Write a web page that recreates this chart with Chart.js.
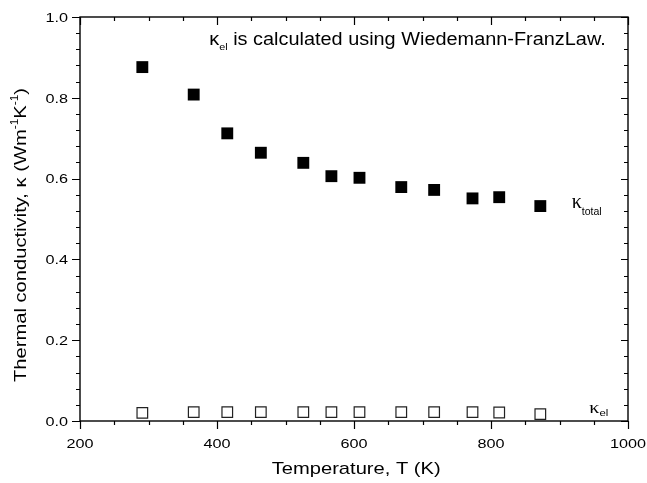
<!DOCTYPE html>
<html>
<head>
<meta charset="utf-8">
<script src="https://cdn.jsdelivr.net/npm/chart.js@4.4.1/dist/chart.umd.min.js"></script>
<style>
html, body { margin: 0; padding: 0; background: #fff; }
#wrap { position: relative; width: 647px; height: 483px; }
</style>
</head>
<body>
<div id="wrap"><canvas id="kappaChart"></canvas></div>
<script>
'use strict';

// Data
var TEMPS   = [291, 366, 415, 464, 526, 567, 608, 669, 717, 773, 812, 872];
var K_TOTAL = [0.876, 0.808, 0.712, 0.664, 0.639, 0.606, 0.602, 0.579, 0.572, 0.551, 0.554, 0.532];
var K_EL    = [0.020, 0.022, 0.022, 0.022, 0.022, 0.022, 0.022, 0.022, 0.022, 0.022, 0.021, 0.017];

var X_MIN = 200, X_MAX = 1000, X_STEP = 200, X_MINOR = 50;
var Y_MIN = 0, Y_MAX = 1.0, Y_STEP = 0.2, Y_MINOR = 0.04;

var SANS = '"Liberation Sans", Arial, Helvetica, sans-serif';
var SERIF = '"Liberation Serif", "Times New Roman", serif';

function pts(xs, ys) {
  return xs.map(function (x, i) { return { x: x, y: ys[i] }; });
}

// draw a run of text pieces (sub/superscripts), optionally stretched to a width
function drawRich(ctx, segs, x, y, o) {
  o = o || {};
  var w = 0;
  segs.forEach(function (s) {
    ctx.font = s.size + 'px ' + (s.family || SANS);
    s.w = ctx.measureText(s.t).width;
    w += s.w;
  });
  var k = o.width ? o.width / w : (o.scale || 1);
  ctx.save();
  ctx.translate(x, y);
  if (o.angle) ctx.rotate(o.angle);
  ctx.scale(k, 1);
  var cx = 0;
  if (o.align === 'center') cx = -w / 2;
  else if (o.align === 'right') cx = -w;
  ctx.fillStyle = '#000';
  ctx.textBaseline = 'alphabetic';
  ctx.textAlign = 'left';
  segs.forEach(function (s) {
    ctx.font = s.size + 'px ' + (s.family || SANS);
    ctx.fillText(s.t, cx, s.dy || 0);
    cx += s.w;
  });
  ctx.restore();
}

var framePlugin = {
  id: 'frame',
  afterDatasetsDraw: function (chart) {
    var ctx = chart.ctx, a = chart.chartArea;
    var xs = chart.scales.x, ys = chart.scales.y;
    ctx.save();
    ctx.strokeStyle = '#000';
    ctx.lineWidth = 1.4;
    ctx.strokeRect(a.left, a.top, a.right - a.left, a.bottom - a.top);

    ctx.lineWidth = 1.2;
    ctx.beginPath();
    // x ticks: outward at bottom, inward at top
    for (var v = X_MIN; v <= X_MAX + 1e-9; v += X_MINOR) {
      var px = Math.round(xs.getPixelForValue(v)) + 0.5;
      var major = Math.abs(v % X_STEP) < 1e-6;
      ctx.moveTo(px, a.bottom); ctx.lineTo(px, a.bottom + (major ? 8 : 4));
      ctx.moveTo(px, a.top); ctx.lineTo(px, a.top + (major ? 8 : 4));
    }
    // y ticks: outward at left, inward at right
    for (var i = 0; i <= Math.round((Y_MAX - Y_MIN) / Y_MINOR); i++) {
      var val = Y_MIN + i * Y_MINOR;
      var py = Math.round(ys.getPixelForValue(val)) + 0.5;
      var maj = i % 5 === 0;
      ctx.moveTo(a.left - (maj ? 8 : 4), py); ctx.lineTo(a.left, py);
      ctx.moveTo(a.right, py); ctx.lineTo(a.right - (maj ? 7 : 4), py);
    }
    ctx.stroke();
    ctx.restore();

    // tick labels
    xs.ticks.forEach(function (t) {
      drawRich(ctx, [{ t: String(Math.round(t.value)), size: 13.5 }],
        xs.getPixelForValue(t.value), a.bottom + 26.5, { scale: 1.2, align: 'center' });
    });
    ys.ticks.forEach(function (t) {
      drawRich(ctx, [{ t: t.value.toFixed(1), size: 13.5 }],
        a.left - 12, ys.getPixelForValue(t.value) + 4.8, { scale: 1.2, align: 'right' });
    });

    // axis titles
    drawRich(ctx, [{ t: 'Temperature, T (K)', size: 17 }], 271.7, 474.3, { width: 169 });
    drawRich(ctx, [
      { t: 'Thermal conductivity, \u03ba (Wm', size: 17 },
      { t: '-1', size: 10, dy: -7.5 },
      { t: 'K', size: 17 },
      { t: '-1', size: 10, dy: -7.5 },
      { t: ')', size: 17 }
    ], 25.5, 382, { width: 294, angle: -Math.PI / 2 });

    // annotation and series labels
    drawRich(ctx, [
      { t: '\u03ba', size: 17.5 },
      { t: 'el', size: 9.5, dy: 5 },
      { t: ' is calculated using Wiedemann-FranzLaw.', size: 17.5 }
    ], 209.3, 44.5, { width: 396.4 });
    drawRich(ctx, [
      { t: '\u03ba', size: 20, family: SERIF },
      { t: 'total', size: 10.5, dy: 7.3 }
    ], 571.7, 207.7, { width: 30 });
    drawRich(ctx, [
      { t: '\u03ba', size: 16, family: SERIF },
      { t: 'el', size: 9, dy: 3 }
    ], 589.3, 413.3, { width: 19 });
  }
};

new Chart(document.getElementById('kappaChart'), {
  type: 'scatter',
  data: {
    datasets: [
      {
        label: 'k_total',
        data: pts(TEMPS, K_TOTAL),
        pointStyle: 'rect',
        pointRadius: 8.4,
        backgroundColor: '#000',
        borderColor: '#000',
        borderWidth: 0
      },
      {
        label: 'k_el',
        data: pts(TEMPS, K_EL),
        pointStyle: 'rect',
        pointRadius: 7.5,
        backgroundColor: 'rgba(255,255,255,0)',
        borderColor: '#222',
        borderWidth: 1.2
      }
    ]
  },
  options: {
    responsive: true,
    maintainAspectRatio: false,
    animation: false,
    events: [],
    layout: { padding: { top: 17, right: 19, left: 0, bottom: 0 } },
    plugins: { legend: { display: false }, tooltip: { enabled: false } },
    scales: {
      x: {
        type: 'linear', min: X_MIN, max: X_MAX,
        ticks: { display: false, stepSize: X_STEP },
        grid: { display: false, drawTicks: false },
        border: { display: false },
        afterFit: function (s) { s.height = 62; }
      },
      y: {
        type: 'linear', min: Y_MIN, max: Y_MAX,
        ticks: { display: false, stepSize: Y_STEP },
        grid: { display: false, drawTicks: false },
        border: { display: false },
        afterFit: function (s) { s.width = 80; }
      }
    }
  },
  plugins: [framePlugin]
});
</script>
</body>
</html>
